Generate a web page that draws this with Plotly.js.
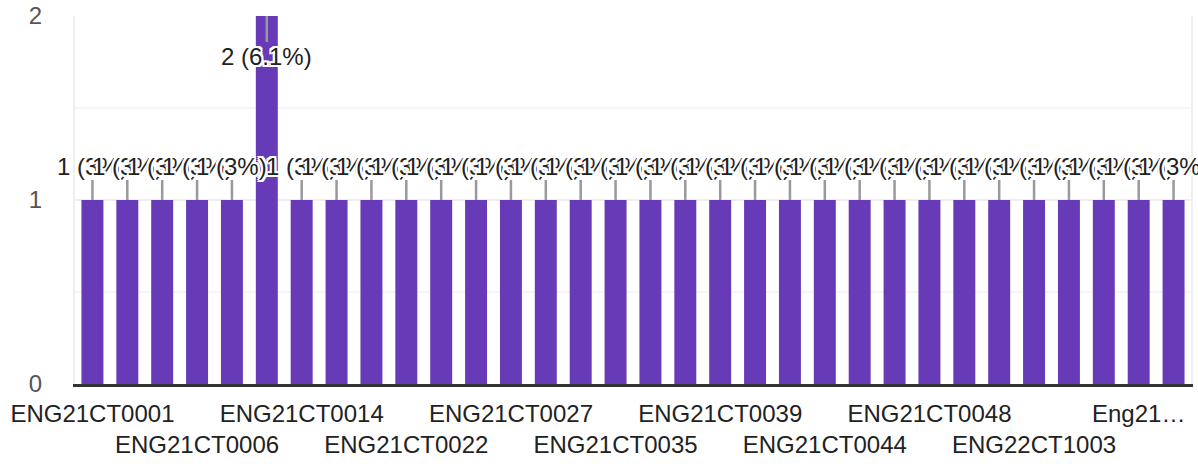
<!DOCTYPE html>
<html>
<head>
<meta charset="utf-8">
<script src="https://cdn.plot.ly/plotly-3.0.1.min.js"></script>
<style>html,body{margin:0;padding:0;background:#fff;}#chart{width:1198px;height:464px;}</style>
</head>
<body>
<div id="chart"></div>
<script>
const categories = [
  "ENG21CT0001","ENG21CT0002","ENG21CT0004","ENG21CT0006","ENG21CT0008","ENG21CT0011",
  "ENG21CT0014","ENG21CT0016","ENG21CT0019","ENG21CT0022","ENG21CT0024","ENG21CT0025",
  "ENG21CT0027","ENG21CT0030","ENG21CT0032","ENG21CT0035","ENG21CT0036","ENG21CT0038",
  "ENG21CT0039","ENG21CT0041","ENG21CT0042","ENG21CT0044","ENG21CT0045","ENG21CT0047",
  "ENG21CT0048","ENG21CT0050","ENG21CT0052","ENG22CT1003","ENG22CT1007","ENG22CT1012",
  "Eng21ct0033","Eng21ct0040"
];
const counts = [1,1,1,1,1,2,1,1,1,1,1,1,1,1,1,1,1,1,1,1,1,1,1,1,1,1,1,1,1,1,1,1];
const tickIndex = [0,3,6,9,12,15,18,21,24,27,30];
const tickLabels = ["ENG21CT0001","ENG21CT0006","ENG21CT0014","ENG21CT0022","ENG21CT0027",
  "ENG21CT0035","ENG21CT0039","ENG21CT0044","ENG21CT0048","ENG22CT1003","Eng21…"];

const total = counts.reduce((a,b)=>a+b,0);
function pct(v){ const p = v/total*100; return (Math.round(p*10)/10).toString().replace(/\.0$/,''); }
const maxV = 2;
const FONT = 'Arial, "Liberation Sans", sans-serif';

const halo = "2px 0 0 #fff, -2px 0 0 #fff, 0 2px 0 #fff, 0 -2px 0 #fff, 2px 2px 0 #fff, -2px -2px 0 #fff, 2px -2px 0 #fff, -2px 2px 0 #fff";
const annotations = categories.map((c,i)=>{
  const v = counts[i];
  const top = v >= maxV;
  return {
    x: c, y: v, xref:'x', yref:'y',
    text: v + ' (' + pct(v) + '%)',
    showarrow: true, arrowhead: 0, arrowwidth: 2.5, arrowcolor: '#999999',
    ax: 0, ay: top ? 40 : -34, standoff: 0,
    font: {family: FONT, size: 24, color: '#222222', shadow: halo},
    borderpad: 0
  };
});

const trace = {
  type: 'bar', x: categories, y: counts,
  marker: {color: '#673ab7'},
  hoverinfo: 'x+y'
};

const layout = {
  width: 1198, height: 464,
  margin: {l: 75, r: 7, t: 16, b: 80},
  paper_bgcolor: '#fff', plot_bgcolor: '#fff',
  bargap: 0.37,
  showlegend: false,
  font: {family: FONT, size: 24, color: '#222'},
  xaxis: {
    type: 'category',
    range: [-0.5, categories.length - 0.5],
    tickvals: tickIndex.map(i=>categories[i]),
    ticktext: tickLabels.map((t,k)=> k%2 ? '<br>'+t : t),
    tickangle: 0,
    tickfont: {family: FONT, size: 24, color: '#222222'},
    showgrid: false, zeroline: false,
    showline: true, linecolor: '#333333', linewidth: 3,
    ticks: '', ticklabelstandoff: 6, automargin: false
  },
  yaxis: {
    range: [0, 2], dtick: 1, tick0: 0,
    showgrid: true, gridcolor: '#efefef', gridwidth: 2,
    minor: {dtick: 0.5, showgrid: true, gridcolor: '#f5f5f5', gridwidth: 2},
    zeroline: false,
    showline: true, mirror: true, linecolor: '#efefef', linewidth: 2,
    ticks: '', ticklabelstandoff: 26,
    tickfont: {family: FONT, size: 24, color: '#555555'},
    automargin: false
  },
  annotations: annotations
};

Plotly.newPlot('chart', [trace], layout, {displayModeBar: false, staticPlot: true});
</script>
</body>
</html>
